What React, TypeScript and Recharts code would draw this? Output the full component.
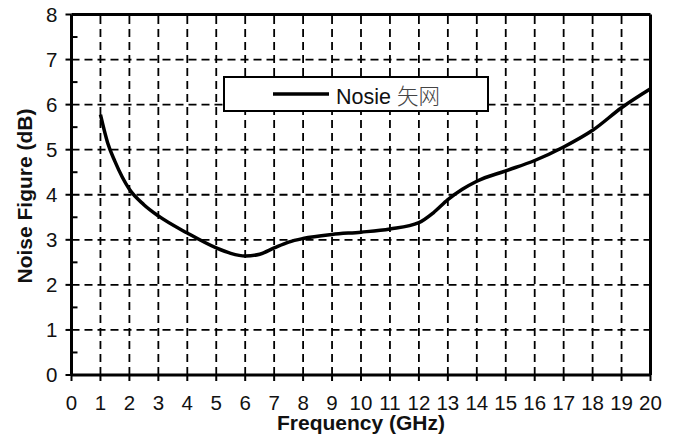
import { LineChart, Line, XAxis, YAxis, ReferenceLine } from "recharts";

const freqGHz = [1, 1.25, 1.5, 2, 2.5, 3, 4, 5, 5.5, 6, 6.5, 7, 7.5, 8, 9, 10, 11, 12, 12.5, 13, 13.5, 14, 15, 16, 17, 18, 19, 20];
const noiseDb = [5.78, 5.15, 4.74, 4.12, 3.78, 3.53, 3.15, 2.82, 2.7, 2.64, 2.68, 2.82, 2.95, 3.03, 3.12, 3.17, 3.24, 3.38, 3.6, 3.89, 4.12, 4.3, 4.53, 4.76, 5.06, 5.43, 5.93, 6.35];

const xTicks = Array.from({ length: 21 }, (_, i) => i);
const yTicks = [0, 0.5, 1, 1.5, 2, 2.5, 3, 3.5, 4, 4.5, 5, 5.5, 6, 6.5, 7, 7.5, 8];
const xGrid = [1, 2, 3, 4, 5, 6, 7, 8, 9, 10, 11, 12, 13, 14, 15, 16, 17, 18, 19];
const yGrid = [1, 2, 3, 4, 5, 6, 7];

const seriesName = "Nosie 矢网";

const data = freqGHz.map((f, i) => ({ f, nf: noiseDb[i] }));

const FONT = '"Liberation Sans", Arial, sans-serif';

// major ticks point out with a label, half-steps are short inward ticks
const YTick = (props: any) => {
  const { x, y, payload } = props;
  const v = payload.value as number;
  const major = Number.isInteger(v);
  return (
    <g>
      <line x1={major ? x - 6 : x} x2={major ? x : x + 6} y1={y} y2={y} stroke="#000" strokeWidth={2} />
      {major && (
        <text x={x - 14} y={y} dy="0.36em" textAnchor="end" fill="#111" fontSize={20.5} fontFamily={FONT}>
          {v}
        </text>
      )}
    </g>
  );
};

const YLabel = () => (
  <text
    x={24}
    y={196}
    transform="rotate(-90 24 196)"
    textAnchor="middle"
    dominantBaseline="central"
    fontSize={21}
    fontWeight="bold"
    fontFamily={FONT}
    fill="#111"
  >
    Noise Figure (dB)
  </text>
);

export default function App() {
  return (
    <div style={{ position: "absolute", left: 0, top: 0, width: 678, height: 437, background: "#fff" }}>
      <LineChart width={678} height={437} data={data} margin={{ top: 14.5, right: 27.5, left: 0, bottom: 0 }}>
        <XAxis
          dataKey="f"
          type="number"
          domain={[0, 20]}
          ticks={xTicks}
          interval={0}
          height={62}
          axisLine={{ stroke: "#000", strokeWidth: 3 }}
          tickLine={{ stroke: "#000", strokeWidth: 2 }}
          tickSize={6}
          tickMargin={14}
          tick={{ fill: "#111", fontSize: 20.5, fontFamily: FONT }}
          label={{ value: "Frequency (GHz)", position: "insideBottom", offset: 7, fill: "#111", fontSize: 21, fontWeight: "bold", fontFamily: FONT }}
        />
        <YAxis
          type="number"
          domain={[0, 8]}
          ticks={yTicks}
          interval={0}
          width={71.5}
          axisLine={{ stroke: "#000", strokeWidth: 3 }}
          tickLine={false}
          tickSize={0}
          tickMargin={0}
          tick={YTick}
          label={{ content: YLabel }}
        />
        {xGrid.map((v) => (
          <ReferenceLine key={`vx${v}`} x={v} stroke="#000" strokeWidth={1.8} strokeDasharray="8 5" />
        ))}
        {yGrid.map((v) => (
          <ReferenceLine key={`hy${v}`} y={v} stroke="#000" strokeWidth={1.8} strokeDasharray="8 5" />
        ))}
        <ReferenceLine y={8} stroke="#000" strokeWidth={3} />
        <ReferenceLine x={20} stroke="#000" strokeWidth={3} />
        <Line
          type="monotone"
          dataKey="nf"
          name={seriesName}
          stroke="#000"
          strokeWidth={3.5}
          dot={false}
          isAnimationActive={false}
        />
      </LineChart>
      <div
        style={{
          position: "absolute",
          left: 223,
          top: 76,
          width: 266,
          height: 36,
          boxSizing: "border-box",
          border: "2px solid #000",
          background: "#fff",
          display: "flex",
          alignItems: "center",
          fontFamily: FONT,
        }}
      >
        <svg width={56} height={8} style={{ marginLeft: 48 }}>
          <line x1={0} x2={56} y1={4} y2={4} stroke="#000" strokeWidth={3.5} />
        </svg>
        <span style={{ marginLeft: 7, fontSize: 21.5, color: "#111" }}>
          Nosie <span style={{ fontFamily: '"Noto Sans CJK SC", sans-serif', color: "#444", fontWeight: 300 }}>矢网</span>
        </span>
      </div>
    </div>
  );
}
